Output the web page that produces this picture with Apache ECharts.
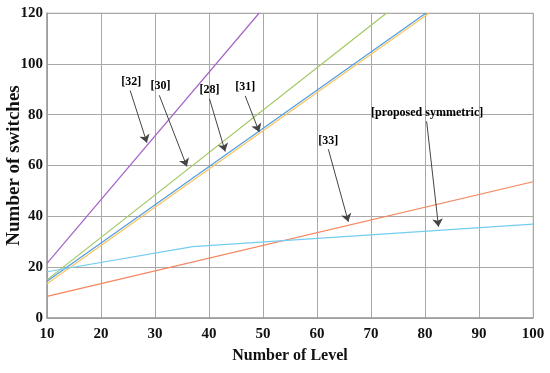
<!DOCTYPE html>
<html>
<head>
<meta charset="utf-8">
<script src="https://cdn.jsdelivr.net/npm/echarts@6/dist/echarts.min.js"></script>
<style>
html,body{margin:0;padding:0;background:#fff;}
#chart{width:550px;height:373px;}
</style>
</head>
<body>
<div id="chart"></div>
<script>
// Series values (x = number of levels, y = number of switches)
const ref32 = [[10, 21.5], [49.3, 120]];
const ref30 = [[10, 15], [72.9, 120]];
const ref28 = [[10, 14.5], [80.2, 120]];
const ref31 = [[10, 13.5], [80.8, 120]];
const ref33 = [[10, 8.5], [100, 53.6]];
const proposed = [[10, 18.2], [37, 28.1], [100, 36.9]];

// Annotation labels and arrows (data coordinates)
const annLabels = [
  [25.6, 93.0, '[32]'],
  [31.0, 91.2, '[30]'],
  [40.1, 89.8, '[28]'],
  [46.7, 91.0, '[31]'],
  [62.1, 69.8, '[33]'],
  [80.4, 80.6, '[proposed symmetric]']
];
const annArrows = [
  [[25.4, 89.5], [28.5, 69.0]],
  [[30.8, 87.6], [35.9, 59.6]],
  [[40.1, 86.2], [43.0, 65.5]],
  [[46.7, 87.4], [49.3, 73.2]],
  [[62.1, 66.4], [65.8, 37.9]],
  [[80.3, 77.4], [82.5, 35.9]]
];

const xTicks = {min: 10, max: 100, interval: 10};
const yTicks = {min: 0, max: 120, interval: 20};

const serif = '"Liberation Serif", "Times New Roman", serif';

function lineSeries(name, data, color) {
  return {
    name: name, type: 'line', data: data, showSymbol: false, symbol: 'none',
    lineStyle: {color: color, width: 1.2}, silent: true, animation: false, clip: true
  };
}

const chart = echarts.init(document.getElementById('chart'), null, {renderer: 'canvas'});
chart.setOption({
  animation: false,
  backgroundColor: '#fff',
  grid: {left: 47, right: 17, top: 13, bottom: 55, show: true, borderColor: '#cfcfcf', borderWidth: 1,
         containLabel: false, outerBoundsMode: 'none'},
  xAxis: {
    type: 'value', min: xTicks.min, max: xTicks.max, interval: xTicks.interval,
    name: 'Number of Level', nameLocation: 'middle', nameGap: 30, nameMoveOverlap: false,
    nameTextStyle: {fontFamily: serif, fontWeight: 'bold', fontSize: 16, color: '#111'},
    axisLine: {show: true, lineStyle: {color: '#9a9a9a', width: 1.5}},
    axisTick: {show: false},
    axisLabel: {fontFamily: serif, fontWeight: 'bold', fontSize: 15, color: '#111', margin: 9},
    splitLine: {show: true, lineStyle: {color: '#a8a8a8', width: 1}}
  },
  yAxis: {
    type: 'value', min: yTicks.min, max: yTicks.max, interval: yTicks.interval,
    name: 'Number of switches', nameLocation: 'middle', nameGap: 23, nameMoveOverlap: false,
    nameTextStyle: {fontFamily: serif, fontWeight: 'bold', fontSize: 19, color: '#111'},
    axisLine: {show: true, lineStyle: {color: '#9a9a9a', width: 1.5}},
    axisTick: {show: false},
    axisLabel: {fontFamily: serif, fontWeight: 'bold', fontSize: 15, color: '#111', margin: 4},
    splitLine: {show: true, lineStyle: {color: '#a8a8a8', width: 1}}
  },
  series: [
    lineSeries('[32]', ref32, '#a564c8'),
    lineSeries('[30]', ref30, '#a2c863'),
    lineSeries('[31]', ref31, '#fbc35e'),
    lineSeries('[28]', ref28, '#4d9de2'),
    lineSeries('[33]', ref33, '#f4845c'),
    lineSeries('[proposed symmetric]', proposed, '#74cdf0'),
    {
      type: 'scatter', data: annLabels, symbolSize: 0, silent: true,
      itemStyle: {opacity: 1},
      label: {
        show: true, position: 'inside', formatter: p => p.value[2], opacity: 1,
        fontFamily: serif, fontWeight: 'bold', fontSize: 12, color: '#000'
      },
      markLine: {
        silent: true, symbol: ['none', 'arrow'], symbolSize: 8,
        label: {show: false},
        lineStyle: {color: '#444', width: 1, type: 'solid', opacity: 1},
        data: annArrows.map(a => [{coord: a[0]}, {coord: a[1]}])
      }
    }
  ]
});
</script>
</body>
</html>
